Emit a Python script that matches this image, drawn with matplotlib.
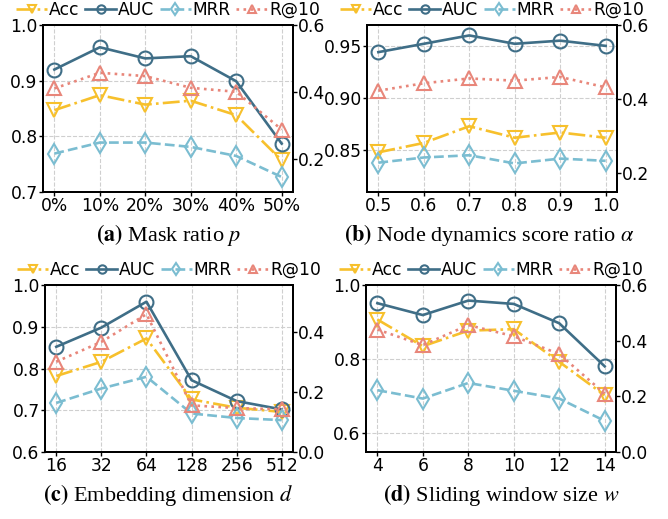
import numpy as np
import matplotlib
matplotlib.use('Agg')
import matplotlib.pyplot as plt

plt.rcParams['font.family'] = ['DejaVu Sans']
plt.rcParams['mathtext.fontset'] = 'stix'

# ---- data ----
mask_labels = ['0%', '10%', '20%', '30%', '40%', '50%']
mask_acc = [0.847, 0.874, 0.857, 0.864, 0.838, 0.757]
mask_auc = [0.920, 0.960, 0.940, 0.944, 0.899, 0.787]
mask_mrr = [0.215, 0.248, 0.248, 0.235, 0.208, 0.145]
mask_r10 = [0.410, 0.457, 0.447, 0.412, 0.400, 0.287]

alpha_labels = ['0.5', '0.6', '0.7', '0.8', '0.9', '1.0']
alpha_acc = [0.848, 0.857, 0.873, 0.862, 0.867, 0.862]
alpha_auc = [0.944, 0.952, 0.960, 0.952, 0.955, 0.950]
alpha_mrr = [0.229, 0.243, 0.249, 0.227, 0.240, 0.234]
alpha_r10 = [0.423, 0.443, 0.456, 0.450, 0.460, 0.432]

dim_labels = ['16', '32', '64', '128', '256', '512']
dim_acc = [0.782, 0.816, 0.872, 0.726, 0.706, 0.696]
dim_auc = [0.852, 0.898, 0.960, 0.772, 0.722, 0.702]
dim_mrr = [0.163, 0.211, 0.250, 0.128, 0.113, 0.106]
dim_r10 = [0.300, 0.366, 0.458, 0.155, 0.146, 0.142]

win_labels = ['4', '6', '8', '10', '12', '14']
win_acc = [0.907, 0.835, 0.877, 0.881, 0.793, 0.703]
win_auc = [0.951, 0.919, 0.958, 0.949, 0.897, 0.781]
win_mrr = [0.222, 0.192, 0.248, 0.220, 0.192, 0.112]
win_r10 = [0.440, 0.384, 0.456, 0.416, 0.352, 0.210]

C_ACC = '#F7C02C'
C_AUC = '#3F6E87'
C_MRR = '#7BBDD1'
C_R10 = '#E8867A'

W, H = 668, 519
fig = plt.figure(figsize=(W / 100, H / 100), dpi=100)


def panel(rect, labels, acc, auc, mrr, r10, ylim, yticks, yfmt, ylim2, yticks2, caption, cap_xy):
    ax = fig.add_axes([rect[0] / W, 1 - rect[3] / H, (rect[2] - rect[0]) / W, (rect[3] - rect[1]) / H])
    ax2 = ax.twinx()
    x = np.arange(len(labels))
    kw = dict(linewidth=1.9, markersize=10, markeredgewidth=1.5, markerfacecolor='none')
    l1, = ax.plot(x, acc, '-.', color=C_ACC, marker='v', label='Acc', **kw)
    l2, = ax.plot(x, auc, '-', color=C_AUC, marker='o', label='AUC', **kw)
    l3, = ax2.plot(x, mrr, '--', color=C_MRR, marker='d', label='MRR', **kw)
    l4, = ax2.plot(x, r10, ':', color=C_R10, marker='^', label='R@10', **kw)
    ax.set_xlim(-0.25, len(labels) - 0.75)
    ax.set_xticks(x)
    ax.set_xticklabels(labels)
    ax.set_ylim(*ylim)
    ax.set_yticks(yticks)
    ax.set_yticklabels([yfmt.format(v) for v in yticks])
    ax2.set_ylim(*ylim2)
    ax2.set_yticks(yticks2)
    ax2.set_yticklabels(['{:.1f}'.format(v) for v in yticks2])
    ax.grid(True, linestyle='--', color='#cfcfcf', linewidth=0.8)
    ax.set_axisbelow(True)
    for a in (ax, ax2):
        a.tick_params(labelsize=12.3, length=3, width=1, pad=0.8)
        for s in a.spines.values():
            s.set_linewidth(1.4)
    ax.legend(handles=[l1, l2, l3, l4], loc='lower center', bbox_to_anchor=(0.5, 1.035),
              ncol=4, frameon=False, fontsize=12.3, handlelength=1.8, handletextpad=0.1,
              columnspacing=0.35, borderaxespad=0.0, borderpad=0.0, markerscale=0.6)
    fig.text(cap_xy[0] / W, 1 - cap_xy[1] / H, caption, ha='center', va='center',
             fontsize=16, family='Liberation Serif')
    return ax


panel((43, 25, 293, 192), mask_labels, mask_acc, mask_auc, mask_mrr, mask_r10,
      (0.7, 1.0), [0.7, 0.8, 0.9, 1.0], '{:.1f}', (0.1, 0.6), [0.2, 0.4, 0.6],
      r'$\mathbf{(a)}$ Mask ratio $p$', (169, 235))
panel((367, 25, 617, 192), alpha_labels, alpha_acc, alpha_auc, alpha_mrr, alpha_r10,
      (0.81, 0.97), [0.85, 0.90, 0.95], '{:.2f}', (0.15, 0.6), [0.2, 0.4, 0.6],
      r'$\mathbf{(b)}$ Node dynamics score ratio $\alpha$', (489, 235))
panel((45, 285, 293, 452), dim_labels, dim_acc, dim_auc, dim_mrr, dim_r10,
      (0.6, 1.0), [0.6, 0.7, 0.8, 0.9, 1.0], '{:.1f}', (0.0, 0.555), [0.0, 0.2, 0.4],
      r'$\mathbf{(c)}$ Embedding dimension $d$', (168, 495))
panel((366, 285, 616, 452), win_labels, win_acc, win_auc, win_mrr, win_r10,
      (0.55, 1.0), [0.6, 0.8, 1.0], '{:.1f}', (0.0, 0.6), [0.0, 0.2, 0.4, 0.6],
      r'$\mathbf{(d)}$ Sliding window size $w$', (501, 495))

fig.savefig('out.png', dpi=100)
